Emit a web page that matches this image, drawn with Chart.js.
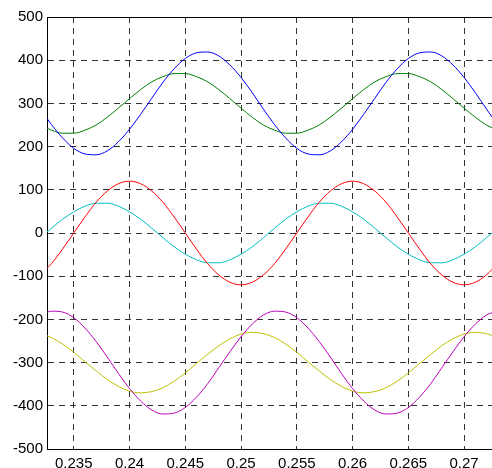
<!DOCTYPE html>
<html>
<head>
<meta charset="utf-8">
<script src="https://cdn.jsdelivr.net/npm/chart.js@4.4.1/dist/chart.umd.min.js"></script>
<style>
  html, body { margin: 0; padding: 0; background: #fff; }
</style>
</head>
<body>
<canvas id="chart" width="492" height="468"></canvas>
<script>
// time axis (s)
const time = [0.232, 0.233, 0.234, 0.235, 0.236, 0.237, 0.238, 0.239, 0.240, 0.241,
              0.242, 0.243, 0.244, 0.245, 0.246, 0.247, 0.248, 0.249, 0.250, 0.251,
              0.252, 0.253, 0.254, 0.255, 0.256, 0.257, 0.258, 0.259, 0.260, 0.261,
              0.262, 0.263, 0.264, 0.265, 0.266, 0.267, 0.268, 0.269, 0.270, 0.271,
              0.272, 0.273];

const blue = [287, 251, 220, 196, 183, 181, 190, 211, 240, 275, 312, 349, 380, 404, 417, 419, 410, 389, 360, 325,
              287, 251, 220, 196, 183, 181, 190, 211, 240, 275, 312, 349, 380, 404, 417, 419, 410, 389, 360, 325,
              287, 251];
const green = [250, 238, 231, 231, 238, 250, 268, 289, 311, 332, 350, 362, 369, 369, 362, 350, 332, 311, 289, 268,
               250, 238, 231, 231, 238, 250, 268, 289, 311, 332, 350, 362, 369, 369, 362, 350, 332, 311, 289, 268,
               250, 238];
const red = [-97, -71, -37, 0, 37, 71, 97, 114, 120, 114, 97, 71, 37, 0, -37, -71, -97, -114, -120, -114,
             -97, -71, -37, 0, 37, 71, 97, 114, 120, 114, 97, 71, 37, 0, -37, -71, -97, -114, -120, -114,
             -97, -71];
const cyan = [-11, 11, 32, 49, 62, 69, 69, 62, 49, 32, 11, -11, -32, -49, -62, -69, -69, -62, -49, -32,
              -11, 11, 32, 49, 62, 69, 69, 62, 49, 32, 11, -11, -32, -49, -62, -69, -69, -62, -49, -32,
              -11, 11];
const magenta = [-190, -181, -183, -196, -220, -251, -287, -325, -360, -389, -410, -419, -417, -404, -380, -349, -312, -275, -240, -211,
                 -190, -181, -183, -196, -220, -251, -287, -325, -360, -389, -410, -419, -417, -404, -380, -349, -312, -275, -240, -211,
                 -190, -181];
const yellow = [-233, -242, -257, -276, -298, -319, -339, -355, -366, -370, -367, -358, -343, -324, -302, -281, -261, -245, -234, -230,
                -233, -242, -257, -276, -298, -319, -339, -355, -366, -370, -367, -358, -343, -324, -302, -281, -261, -245, -234, -230,
                -233, -242];

const xTicks = [0.235, 0.24, 0.245, 0.25, 0.255, 0.26, 0.265, 0.27];
const xTickLabels = ['0.235', '0.24', '0.245', '0.25', '0.255', '0.26', '0.265', '0.27'];
const yTicks = [-500, -400, -300, -200, -100, 0, 100, 200, 300, 400, 500];

function series(values, color) {
    return {
        data: time.map((t, i) => ({ x: t, y: values[i] })),
        borderColor: color,
        borderWidth: 1,
        pointRadius: 0,
        fill: false,
        cubicInterpolationMode: 'monotone'
    };
}

// top edge of the box
const frame = {
    id: 'frame',
    afterDatasetsDraw(chart) {
        const { ctx, chartArea: a } = chart;
        ctx.save();
        ctx.strokeStyle = '#000';
        ctx.lineWidth = 1;
        ctx.beginPath();
        ctx.moveTo(a.left, Math.round(a.top) + 0.5);
        ctx.lineTo(a.right, Math.round(a.top) + 0.5);
        ctx.stroke();
        ctx.restore();
    }
};

const tickFont = { family: '"Liberation Sans", Arial, sans-serif', size: 15 };

new Chart(document.getElementById('chart'), {
    type: 'line',
    data: {
        datasets: [
            series(blue, '#0000ff'),
            series(green, '#008000'),
            series(red, '#ff0000'),
            series(cyan, '#00bfbf'),
            series(magenta, '#bf00bf'),
            series(yellow, '#bfbf00')
        ]
    },
    options: {
        responsive: false,
        animation: false,
        devicePixelRatio: 1,
        layout: { padding: { top: 17, right: 0, bottom: 0, left: 0 } },
        plugins: {
            legend: { display: false },
            tooltip: { enabled: false }
        },
        scales: {
            x: {
                type: 'linear',
                min: 0.2326,
                max: 0.2725,
                afterBuildTicks: (s) => { s.ticks = xTicks.map(v => ({ value: v })); },
                afterFit: (s) => { s.height = 19; },
                ticks: {
                    color: '#000',
                    font: tickFont,
                    padding: 6,
                    maxRotation: 0,
                    callback: (v) => xTickLabels[xTicks.indexOf(v)]
                },
                grid: { color: '#333', lineWidth: 1, drawTicks: false },
                border: { display: true, color: '#000', width: 1, dash: [6, 5] }
            },
            y: {
                type: 'linear',
                min: -500,
                max: 500,
                afterBuildTicks: (s) => { s.ticks = yTicks.map(v => ({ value: v })); },
                afterFit: (s) => { s.width = 47; },
                ticks: {
                    color: '#000',
                    font: tickFont,
                    padding: 4,
                    callback: (v) => String(v)
                },
                grid: { color: '#333', lineWidth: 1, drawTicks: false },
                border: { display: true, color: '#000', width: 1, dash: [6, 5] }
            }
        }
    },
    plugins: [frame]
});
</script>
</body>
</html>
